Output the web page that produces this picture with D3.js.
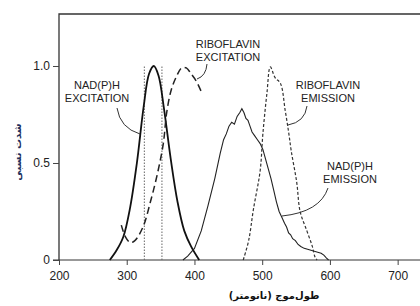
<!DOCTYPE html>
<html>
<head>
<meta charset="utf-8">
<script src="https://cdn.jsdelivr.net/npm/d3@7"></script>
<style>
  body { margin: 0; background: #fff; }
  svg { display: block; }
  .tick text { font-family: "Liberation Sans", Arial, sans-serif; font-size: 12px; fill: #222; }
  .lbl { font-family: "Liberation Sans", Arial, sans-serif; font-size: 11px; fill: #222; }
</style>
</head>
<body>
<div class="chart"></div>
<script>
'use strict';

// wavelength (nm) / relative intensity
var nadExcitation = [[275,0],[285,0.05],[295,0.12],[305,0.27],[315,0.5],[325,0.79],[333,0.96],[340,1.0],[347,0.95],[355,0.78],[365,0.52],[375,0.3],[385,0.15],[395,0.07],[407,0]];
var riboExcitation = [[292,0.18],[298,0.12],[305,0.09],[312,0.1],[324,0.17],[335,0.3],[345,0.44],[354,0.6],[359,0.76],[366,0.88],[374,0.95],[381,0.99],[388,0.99],[395,0.96],[403,0.92],[411,0.86]];
var nadEmission = [[383,0],[390,0.02],[400,0.06],[410,0.15],[420,0.28],[430,0.42],[438,0.55],[443,0.62],[447,0.65],[451,0.69],[455,0.71],[459,0.7],[463,0.74],[467,0.76],[470,0.78],[473,0.76],[476,0.73],[479,0.72],[482,0.69],[485,0.66],[489,0.64],[493,0.62],[497,0.6],[501,0.57],[505,0.52],[509,0.47],[513,0.42],[517,0.36],[521,0.3],[525,0.25],[529,0.22],[533,0.19],[536,0.17],[539,0.14],[542,0.13],[545,0.11],[549,0.1],[553,0.08],[557,0.07],[562,0.06],[567,0.055],[572,0.05],[577,0.045],[582,0.04],[587,0.035],[591,0.025],[595,0.01],[598,0]];
var riboEmission = [[472,0],[480,0.1],[487,0.26],[497,0.46],[501,0.65],[507,0.86],[512,0.995],[519,0.94],[527,0.91],[534,0.77],[539,0.66],[543,0.56],[551,0.4],[556,0.25],[566,0.15],[574,0.07],[578,0.015],[581,0]];
var excitationMarks = [326, 352];

var xTicks = [200, 300, 400, 500, 600, 700];
var yTicks = [0, 0.5, 1.0];

var width = 420, height = 306;
var margin = {top: 14, right: 0, bottom: 46, left: 59};

var svg = d3.select(".chart").append("svg")
    .attr("width", width)
    .attr("height", height);

var x = d3.scaleLinear().domain([200, 733]).range([margin.left, width - margin.right]);
var y = d3.scaleLinear().domain([0, 1.268]).range([height - margin.bottom, margin.top]);

// frame: left and top lines
svg.append("path")
    .attr("d", "M" + x(200) + "," + y(0) + "V" + margin.top + "H" + width)
    .attr("fill", "none")
    .attr("stroke", "#333")
    .attr("stroke-width", 1.3);

// x axis
var xAxis = svg.append("g")
    .attr("transform", "translate(0," + y(0) + ")")
    .call(d3.axisBottom(x).tickValues(xTicks).tickSize(5).tickPadding(6).tickFormat(d3.format("d")));
xAxis.select(".domain").attr("stroke", "#333").attr("d", "M" + (x(200) - 6) + ",0H" + width);
xAxis.selectAll(".tick line").attr("stroke", "#444");

// y axis
var yAxis = svg.append("g")
    .attr("transform", "translate(" + x(200) + ",0)")
    .call(d3.axisLeft(y).tickValues(yTicks).tickSize(6).tickPadding(3)
        .tickFormat(function(d){ return d === 0 ? "0" : d3.format(".1f")(d); }));
yAxis.select(".domain").remove();
yAxis.selectAll(".tick line").attr("stroke", "#444");

// dotted excitation wavelength markers
svg.selectAll("line.mark")
    .data(excitationMarks)
    .enter().append("line")
    .attr("class", "mark")
    .attr("x1", function(d){ return x(d); })
    .attr("x2", function(d){ return x(d); })
    .attr("y1", y(0))
    .attr("y2", y(1.0))
    .attr("stroke", "#666")
    .attr("stroke-width", 1)
    .attr("stroke-dasharray", "1.5,1.5");

var line = d3.line()
    .x(function(d){ return x(d[0]); })
    .y(function(d){ return y(d[1]); });

var smooth = d3.line()
    .curve(d3.curveCatmullRom)
    .x(function(d){ return x(d[0]); })
    .y(function(d){ return y(d[1]); });

svg.append("path").datum(nadExcitation)
    .attr("d", smooth).attr("fill", "none")
    .attr("stroke", "#111").attr("stroke-width", 1.8);

svg.append("path").datum(riboExcitation)
    .attr("d", smooth).attr("fill", "none")
    .attr("stroke", "#222").attr("stroke-width", 1.5)
    .attr("stroke-dasharray", "7,4");

svg.append("path").datum(nadEmission)
    .attr("d", line).attr("fill", "none")
    .attr("stroke", "#222").attr("stroke-width", 1.1);

svg.append("path").datum(riboEmission)
    .attr("d", smooth).attr("fill", "none")
    .attr("stroke", "#333").attr("stroke-width", 1.2)
    .attr("stroke-dasharray", "3,2");

// labels with leader lines
var labels = [
  {lines: ["NAD(P)H", "EXCITATION"], cx: 97, top: 89, leader: "M117,108 Q120,128 140,134"},
  {lines: ["RIBOFLAVIN", "EXCITATION"], cx: 228, top: 48, leader: "M207,64 Q206,76 197,79"},
  {lines: ["RIBOFLAVIN", "EMISSION"], cx: 328, top: 89, leader: "M307,106 Q305,122 288,125"},
  {lines: ["NAD(P)H", "EMISSION"], cx: 350, top: 170, leader: "M328,188 Q320,212 282,216"}
];

labels.forEach(function(l){
  var t = svg.append("text").attr("class", "lbl").attr("text-anchor", "middle");
  l.lines.forEach(function(s, i){
    t.append("tspan").attr("x", l.cx).attr("y", l.top + i * 13).text(s);
  });
  svg.append("path").attr("d", l.leader)
      .attr("fill", "none").attr("stroke", "#333").attr("stroke-width", 1);
});

// axis titles
svg.append("text")
    .attr("x", 274).attr("y", 299)
    .attr("text-anchor", "middle")
    .attr("font-family", "DejaVu Sans, sans-serif")
    .attr("font-size", 10).attr("font-weight", "bold")
    .attr("fill", "#111")
    .text("طول‌موج (نانومتر)");

svg.append("text")
    .attr("transform", "translate(21,152) rotate(-90)")
    .attr("text-anchor", "middle")
    .attr("font-family", "DejaVu Sans, sans-serif")
    .attr("font-size", 10).attr("font-weight", "bold")
    .attr("fill", "#1d2f5c")
    .text("شدت نسبی");
</script>
</body>
</html>
